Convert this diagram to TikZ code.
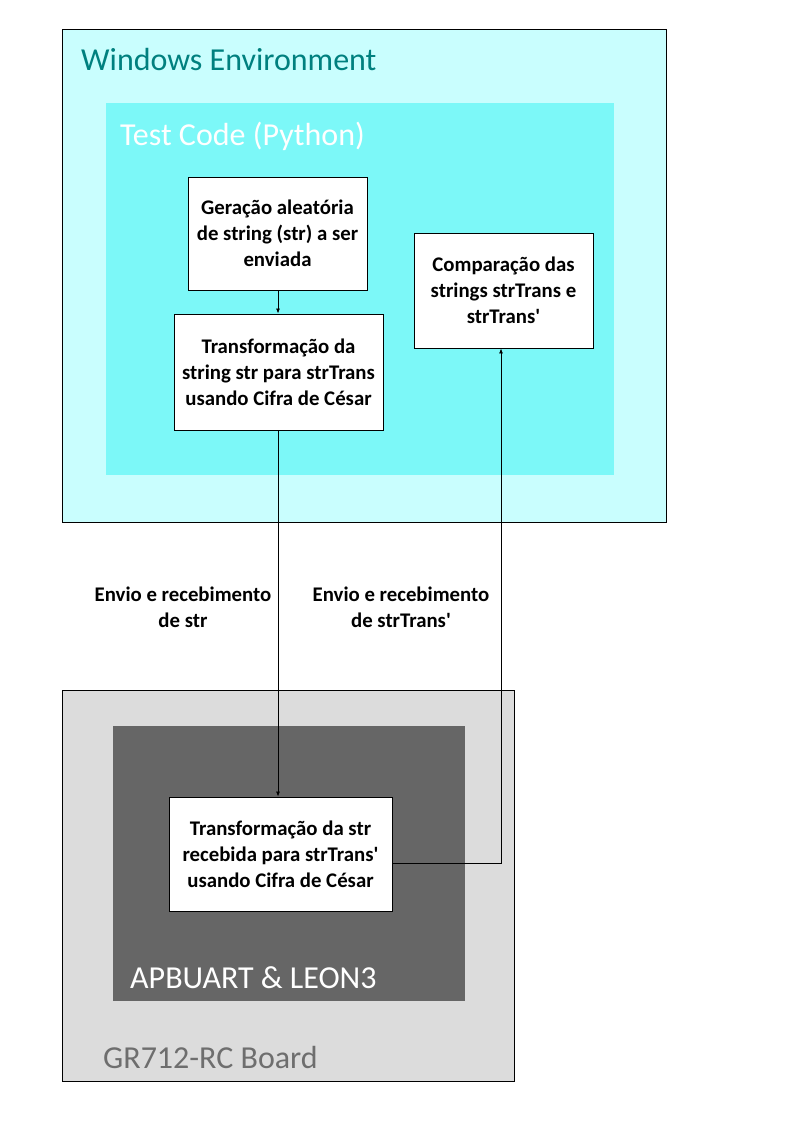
\documentclass[tikz,border=0pt]{standalone}
\usepackage{fontspec}
\setmainfont{Carlito}
\newfontfamily\carlitoplain{Carlito}
\usetikzlibrary{arrows.meta}
\definecolor{envbg}{HTML}{C9FEFE}
\definecolor{codebg}{HTML}{7CF8F8}
\definecolor{teal}{HTML}{00807F}
\definecolor{boardbg}{HTML}{DCDCDC}
\definecolor{leonbg}{HTML}{666666}
\definecolor{boardtxt}{HTML}{6E6E6E}
\tikzset{
  stepbox/.style={draw=black, line width=0.9pt, fill=white, align=center,
    font=\carlitoplain\fontsize{20.8}{26}\selectfont\bfseries, inner sep=0pt},
  region/.style={rectangle, inner sep=0pt, anchor=north west},
  title/.style={anchor=base west, font=\carlitoplain\fontsize{32}{38}\selectfont, inner sep=0pt},
  conn/.style={line width=0.8pt, -{Latex[length=5pt,width=4pt]}},
  lbl/.style={align=center, font=\carlitoplain\fontsize{20.8}{26}\selectfont\bfseries},
}
\begin{document}
\begin{tikzpicture}[x=1pt,y=-1pt]
\useasboundingbox (0,0) rectangle (794,1123);
\fill[white] (0,0) rectangle (794,1123);
% Windows environment
\node[region, draw=black, line width=0.9pt, fill=envbg, minimum width=604pt, minimum height=493pt] (env) at (62,29) {};
\node[title, text=teal] (envlbl) at (81,71) {Windows Environment};
\node[region, fill=codebg, minimum width=508pt, minimum height=372pt] (code) at (106,103) {};
\node[title, text=white] (codelbl) at (120,146) {Test Code (Python)};
% GR712 board
\node[region, draw=black, line width=0.9pt, fill=boardbg, minimum width=452pt, minimum height=391pt] (board) at (62,690) {};
\node[title, text=boardtxt] (boardlbl) at (103,1068) {GR712-RC Board};
\node[region, fill=leonbg, minimum width=352pt, minimum height=275pt] (leon) at (113,726) {};
\node[title, text=white] (leonlbl) at (130,988) {APBUART \& LEON3};
% step boxes
\node[stepbox, minimum width=179pt, minimum height=113pt] (gen) at (277.5,233.5) {Geração aleatória\\de string (str) a ser\\enviada};
\node[stepbox, minimum width=209pt, minimum height=116pt] (trans) at (278.5,372) {Transformação da\\string str para strTrans\\usando Cifra de César};
\node[stepbox, minimum width=179pt, minimum height=115pt] (cmp) at (503.5,290.5) {Comparação das\\strings strTrans e\\strTrans'};
\node[stepbox, minimum width=223pt, minimum height=114pt] (brd) at (280.5,854) {Transformação da str\\recebida para strTrans'\\usando Cifra de César};
% labels
\node[lbl] (l1) at (183,607) {Envio e recebimento\\de str};
\node[lbl] (l2) at (401,607) {Envio e recebimento\\de strTrans'};
% connectors
\draw[conn] (gen.south -| 278,0) -- (trans.north -| 278,0);
\draw[conn] (trans.south -| 278,0) -- (brd.north -| 278,0);
\coordinate (turn) at (501,863);
\draw[conn] (brd.east |- turn) -- (turn) -- (turn |- cmp.south);
\end{tikzpicture}
\end{document}
